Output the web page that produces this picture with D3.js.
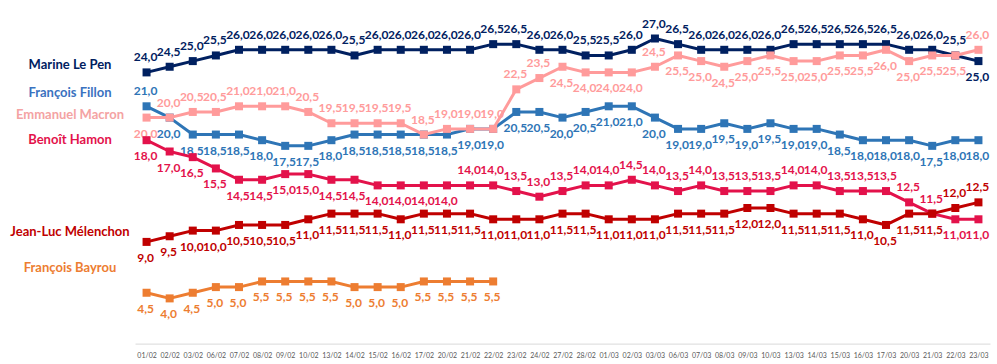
<!DOCTYPE html>
<html><head><meta charset="utf-8">
<script src="https://cdn.jsdelivr.net/npm/d3@7"></script>
<style>
html,body{margin:0;padding:0;background:#fff;}
svg{display:block;font-family:Lato,"Open Sans",sans-serif;}
</style></head>
<body>
<svg id="chart" width="997" height="364"></svg>
<script>
const dates = ["01/02","02/02","03/02","06/02","07/02","08/02","09/02","10/02","13/02","14/02","15/02","16/02","17/02","20/02","21/02","22/02","23/02","24/02","27/02","28/02","01/03","02/03","03/03","06/03","07/03","08/03","09/03","10/03","13/03","14/03","15/03","16/03","17/03","20/03","21/03","22/03","23/03"];
const names = ["Marine Le Pen","François Fillon","Emmanuel Macron","Benoît Hamon","Jean-Luc Mélenchon","François Bayrou"];
const lePen = [24,24.5,25,25.5,26,26,26,26,26,25.5,26,26,26,26,26,26.5,26.5,26,26,25.5,25.5,26,27,26.5,26,26,26,26,26.5,26.5,26.5,26.5,26.5,26,26,25.5,25];
const fillon = [21,20,18.5,18.5,18.5,18,17.5,17.5,18,18.5,18.5,18.5,18.5,18.5,19,19,20.5,20.5,20,20.5,21,21,20,19,19,19.5,19,19.5,19,19,18.5,18,18,18,17.5,18,18];
const macron = [20,20,20.5,20.5,21,21,21,20.5,19.5,19.5,19.5,19.5,18.5,19,19,19,22.5,23.5,24.5,24,24,24,24.5,25.5,25,24.5,25,25.5,25,25,25.5,25.5,26,25,25.5,25.5,26];
const hamon = [18,17,16.5,15.5,14.5,14.5,15,15,14.5,14.5,14,14,14,14,14,14,13.5,13,13.5,14,14,14.5,14,13.5,14,13.5,13.5,13.5,14,14,13.5,13.5,13.5,12.5,11.5,11,11];
const melenchon = [9,9.5,10,10,10.5,10.5,10.5,11,11.5,11.5,11.5,11,11.5,11.5,11.5,11,11,11,11.5,11.5,11,11,11,11.5,11.5,11.5,12,12,11.5,11.5,11.5,11,10.5,11.5,11.5,12,12.5];
const bayrou = [4.5,4,4.5,5,5,5.5,5.5,5.5,5.5,5,5,5,5.5,5.5,5.5,5.5,null,null,null,null,null,null,null,null,null,null,null,null,null,null,null,null,null,null,null,null,null];

const seriesValues = [lePen, fillon, macron, hamon, melenchon, bayrou];
const colors = ["#002060","#2E75B6","#FF9B9B","#E3124B","#C00000","#ED7D31"];
const legendColors = ["#002060","#3A72C0","#F4A3A3","#E3124B","#C00000","#ED7D31"];
const legendY = [65,93,115,140,232,268];
// label side rules (style): returns true when the label sits above the marker
const labelAbove = [
  i => i !== 36,
  i => i === 0,
  i => (i >= 1 && i <= 17) || i === 22 || i === 36,
  i => i >= 14 && i <= 34,
  i => i >= 35,
  i => false
];

const svg = d3.select("#chart");
const x = d3.scalePoint().domain(dates).range([135, 990]).padding(0.5);
const y = d3.scaleLinear().domain([0, 30]).range([343.6, 4.6]);

// axis
const axis = d3.axisBottom(x).tickSize(0).tickPadding(9);
const gAx = svg.append("g").attr("transform", `translate(0,${y(0)})`).call(axis);
gAx.select(".domain").attr("stroke", "#d9d9d9").attr("stroke-width", 1);
gAx.selectAll("text").attr("fill", "#595959").style("font-size", "7px").style("font-family", "Lato, sans-serif");

const line = d3.line().defined(d => d != null).x((d, i) => x(dates[i])).y(d => y(d));

seriesValues.forEach((vals, s) => {
  const g = svg.append("g");
  g.append("path").datum(vals).attr("d", line)
    .attr("fill", "none").attr("stroke", colors[s]).attr("stroke-width", 3).attr("stroke-linejoin", "round");
  const pts = vals.map((v, i) => ({v, i})).filter(d => d.v != null);
  g.selectAll("rect").data(pts).enter().append("rect")
    .attr("x", d => x(dates[d.i]) - 4).attr("y", d => y(d.v) - 4)
    .attr("width", 8).attr("height", 8).attr("fill", colors[s]);
  g.selectAll("text").data(pts).enter().append("text")
    .attr("x", d => x(dates[d.i]) - 1)
    .attr("y", d => labelAbove[s](d.i) ? y(d.v) - 11 : y(d.v) + 20)
    .attr("text-anchor", "middle")
    .attr("fill", colors[s])
    .style("font-size", "12px").style("font-weight", "bold")
    .text(d => d3.format(".1f")(d.v).replace(".", ","));
});

// legend labels
svg.append("g").selectAll("text").data(names).enter().append("text")
  .attr("x", 70).attr("y", (d, i) => legendY[i] + 4)
  .attr("text-anchor", "middle")
  .attr("fill", (d, i) => legendColors[i])
  .style("font-size", "13px").style("font-weight", "bold")
  .text(d => d);
</script>
</body></html>
